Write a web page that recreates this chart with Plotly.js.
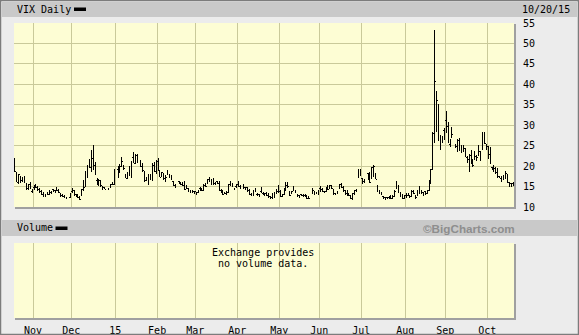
<!DOCTYPE html>
<html><head><meta charset="utf-8">
<script src="https://cdn.plot.ly/plotly-3.0.1.min.js"></script>
<style>html,body{margin:0;padding:0;background:#ececec;overflow:hidden}#chart{width:579px;height:335px}
#chart .ohlclayer path{shape-rendering:crispEdges}</style>
</head><body><div id="chart"></div>
<script>
// ---- data ----
const startDate = '2014-10-20';
const endDate = '2015-10-20';
const holidays = ['2014-11-27','2014-12-25','2015-01-01','2015-01-19','2015-02-16','2015-04-03','2015-05-25','2015-07-03','2015-09-07'];
const monthKeys = ['2014-11','2014-12','2015-01','2015-02','2015-03','2015-04','2015-05','2015-06','2015-07','2015-08','2015-09','2015-10'];
const monthLabels = ['Nov','Dec','15','Feb','Mar','Apr','May','Jun','Jul','Aug','Sep','Oct'];
const yTicks = [10,15,20,25,30,35,40,45,50,55];

const openV = [
 21.19,18.23,16.05,17.42,16.72,17.12,15.73,14.57,15.62,13.84,
 14.74,15.24,14.59,14.30,13.63,13.47,12.92,13.48,13.06,13.59,14.22,13.96,14.24,14.32,12.83,13.07,12.81,12.45,12.30,
 13.82,14.07,13.13,12.61,12.25,12.72,14.82,14.95,18.17,20.34,19.72,21.92,20.08,16.54,16.08,16.50,14.93,14.70,14.59,15.18,15.62,15.43,
 19.19,18.49,20.13,20.23,17.93,16.92,18.00,18.94,22.05,20.72,22.70,21.27,20.55,18.22,16.79,18.06,17.35,16.55,20.24,18.72,
 21.10,18.95,17.86,18.14,16.60,18.06,17.95,17.69,16.16,15.36,16.21,16.08,16.05,15.33,15.14,14.45,13.96,14.05,13.74,
 13.75,13.49,14.56,14.26,14.21,15.62,15.91,16.43,16.64,15.55,15.65,16.22,15.74,14.08,13.73,13.34,13.35,13.46,15.87,15.61,14.54,14.95,
 15.41,15.03,15.21,14.70,14.63,14.04,13.18,12.94,14.09,13.16,12.98,13.88,13.32,12.93,13.16,13.20,12.47,12.36,13.53,13.56,13.70,
 13.86,12.65,12.95,14.01,15.71,13.76,13.36,14.77,13.52,13.14,12.70,13.04,12.77,12.88,12.87,12.22,13.32,13.76,13.67,13.22,
 14.59,14.28,13.89,13.91,14.67,14.58,15.32,14.35,13.29,13.53,14.60,15.48,14.72,14.07,13.28,13.32,12.90,12.07,13.24,14.23,17.33,18.03,
 16.86,16.18,18.17,17.33,17.28,17.36,18.11,15.13,13.95,13.18,12.54,12.29,12.21,12.37,12.75,12.26,12.72,14.73,15.13,13.39,12.74,12.14,
 12.79,12.73,12.64,12.46,13.87,12.75,12.91,14.83,13.56,13.55,13.86,13.28,14.04,15.74,19.22,28.03,29.35,30.77,26.36,27.11,28.66,
 31.16,29.71,25.35,27.71,25.02,24.22,25.91,24.88,24.04,24.30,22.03,21.69,22.71,21.44,22.26,22.13,24.09,22.01,24.53,26.85,25.43,
 24.70,22.84,19.73,19.33,19.10,19.34,17.20,17.50,16.85,17.34,18.10,16.00,15.82,15.66
];
const highV = [
 21.90,18.48,18.00,17.47,17.23,17.48,15.78,15.71,16.03,14.39,
 15.29,15.70,15.04,14.64,14.17,13.55,13.09,13.57,14.20,13.84,14.45,14.04,14.78,14.50,13.50,13.12,12.86,12.50,13.53,
 14.64,14.24,13.22,13.12,12.60,14.35,16.68,18.82,20.12,21.86,23.87,25.20,21.08,17.04,16.77,16.50,15.17,14.77,14.71,15.64,16.18,19.34,
 20.14,20.47,22.12,20.32,18.09,18.63,19.95,21.33,23.43,22.97,22.87,21.54,20.73,18.77,17.23,18.08,18.00,20.78,20.96,21.39,
 21.93,19.06,18.60,18.19,17.88,18.96,18.16,17.87,16.26,15.54,16.48,16.15,16.13,16.31,15.19,14.70,14.15,14.22,13.97,
 13.75,14.21,14.93,14.53,15.58,15.78,16.91,17.24,16.66,17.12,16.06,16.39,16.35,14.33,14.05,13.63,13.97,15.52,16.27,15.93,14.76,15.53,
 16.27,15.38,15.66,14.95,14.86,14.31,13.32,14.10,14.58,13.36,13.18,14.88,13.74,13.49,13.58,13.25,12.62,13.46,13.78,14.50,15.29,
 14.04,13.06,14.68,16.22,16.02,13.76,14.01,15.14,14.18,13.14,12.82,13.06,13.27,13.20,13.00,12.62,14.65,13.77,13.76,14.13,
 15.10,14.67,14.01,15.00,15.26,15.40,15.42,14.35,13.43,13.81,15.68,15.81,15.23,14.12,14.04,13.33,12.96,13.36,14.06,14.43,19.29,19.24,
 17.19,16.95,18.41,18.50,19.78,20.18,18.14,15.29,14.13,13.78,12.73,12.54,12.51,12.62,12.89,13.03,14.07,16.27,15.43,13.56,13.21,12.82,
 13.51,13.42,13.00,14.23,14.26,12.91,14.12,15.21,14.05,13.74,14.00,14.07,16.49,19.33,28.38,53.29,38.30,35.30,27.51,27.25,29.32,
 33.42,30.84,26.51,29.63,25.39,26.58,26.77,25.08,25.09,24.34,22.41,22.85,24.05,21.78,23.80,22.70,25.10,23.72,28.41,28.30,25.52,
 24.85,24.68,19.89,20.25,19.67,19.38,17.68,17.57,17.77,18.74,18.12,16.02,15.90,16.12
];
const lowV = [
 18.44,16.02,15.62,15.89,16.03,15.93,14.34,14.08,14.40,13.44,
 14.27,14.53,14.02,13.36,12.96,12.54,12.47,12.82,12.85,13.08,13.77,13.43,13.80,13.45,12.56,12.53,12.10,11.95,12.15,
 13.51,12.81,12.41,12.30,11.71,12.59,13.94,14.92,17.12,19.46,18.60,19.06,17.78,15.44,15.22,14.97,14.26,14.29,14.12,14.62,15.30,15.36,
 17.05,18.32,19.75,19.06,16.99,16.85,17.49,17.12,20.65,20.55,20.69,19.74,18.59,16.23,16.27,15.38,16.53,16.44,18.48,18.18,
 18.88,17.24,17.23,16.70,16.12,17.81,17.08,16.55,15.24,14.69,15.66,15.31,15.12,14.13,14.40,13.65,13.52,13.51,13.25,
 12.95,13.40,14.01,13.89,13.91,14.88,15.69,16.20,15.29,15.35,15.38,15.53,13.91,13.51,12.92,13.09,12.94,13.43,15.05,14.89,14.26,14.56,
 14.99,14.35,14.42,14.10,13.76,12.98,12.57,12.72,13.60,12.61,12.60,13.43,12.85,12.67,12.62,12.14,12.03,11.95,12.31,13.19,13.54,
 12.38,12.35,12.91,13.96,14.75,12.74,13.18,13.84,13.33,12.56,12.18,12.63,12.48,12.44,12.05,12.08,13.08,12.97,13.19,12.95,
 13.71,13.69,13.31,13.59,14.07,14.38,14.30,13.05,12.82,13.12,14.52,14.59,13.68,12.98,12.81,12.67,11.91,11.82,12.99,13.70,16.99,17.52,
 15.64,15.95,16.54,15.89,16.95,17.32,16.78,13.75,13.28,12.84,12.06,11.81,11.98,12.02,11.97,12.01,12.55,14.43,13.40,12.46,12.05,11.97,
 12.13,12.58,12.21,12.40,13.11,11.92,12.80,13.23,13.10,12.79,12.82,13.15,13.98,15.72,19.22,25.72,28.41,26.19,24.04,25.61,26.34,
 28.18,25.77,24.76,26.93,24.48,23.38,23.62,23.10,23.40,22.13,20.78,18.45,20.58,19.83,21.41,21.28,22.58,21.14,24.06,25.44,23.88,
 21.86,20.63,19.05,18.67,17.96,17.06,16.98,16.11,16.49,16.74,16.02,14.96,14.96,15.19
];
const closeV = [
 18.57,16.08,17.87,16.53,16.11,16.04,14.39,15.15,14.52,14.03,
 14.73,14.89,14.17,13.67,13.12,12.67,12.92,13.02,13.79,13.31,13.99,13.86,13.96,13.58,12.90,12.62,12.25,12.07,13.33,
 14.29,12.85,12.47,12.38,11.82,14.21,14.89,18.53,20.08,21.08,20.42,19.44,17.98,16.81,16.49,15.25,14.80,14.37,14.50,15.06,15.92,19.20,
 17.79,19.92,21.12,19.31,17.01,17.55,19.60,20.56,21.48,22.39,20.95,19.89,18.85,16.40,16.66,15.52,17.22,20.44,18.76,20.97,
 19.43,17.33,18.33,16.85,17.29,18.55,17.23,16.96,15.34,14.69,15.80,15.45,15.29,14.30,14.56,13.69,13.84,13.91,13.34,
 13.04,13.86,14.23,14.04,15.20,15.06,16.69,16.87,15.42,16.00,15.61,15.66,13.97,14.07,13.02,13.41,13.62,15.44,15.80,15.07,14.51,15.29,
 15.11,14.67,14.74,14.78,13.98,13.09,12.58,13.94,13.67,12.84,12.60,13.89,13.30,13.25,12.71,12.48,12.29,13.12,13.03,13.39,14.55,
 12.70,12.85,14.31,15.15,15.13,12.86,13.85,13.86,13.76,12.74,12.38,12.73,12.85,12.88,12.11,12.13,14.06,13.27,13.31,13.84,
 13.97,14.24,13.66,14.71,14.21,15.29,14.47,13.22,12.85,13.78,15.39,14.81,14.50,13.19,13.96,12.74,12.11,13.26,14.01,14.02,18.85,18.23,
 16.09,16.79,17.01,16.09,19.66,19.97,16.83,13.90,13.37,13.23,12.11,11.95,12.25,12.22,12.12,12.64,13.74,15.60,13.44,12.50,12.13,12.12,
 12.56,13.00,12.51,13.77,13.39,12.23,13.71,13.61,13.49,12.83,13.02,13.79,15.25,19.14,28.03,40.74,36.02,30.32,26.10,26.05,28.43,
 31.40,26.09,25.61,27.80,24.90,26.23,24.37,23.20,24.25,22.54,21.35,21.14,22.28,20.14,22.44,22.13,23.47,23.62,27.63,26.83,24.50,
 22.55,20.94,19.54,19.40,18.40,17.42,17.08,16.17,17.67,18.03,16.05,15.05,15.61,15.75
];

// ---- trading calendar (weekday slots, holidays left empty) ----
function iso(d){return d.toISOString().slice(0,10);}
const weekdays = [];
for (let d = new Date(startDate+'T00:00:00Z'); iso(d) <= endDate; d.setUTCDate(d.getUTCDate()+1)) {
  const w = d.getUTCDay(); if (w !== 0 && w !== 6) weekdays.push(iso(d));
}
const tradeDates = weekdays.filter(s => !holidays.includes(s));
[openV,highV,lowV,closeV].forEach((a,i)=>{ if(a.length!==tradeDates.length) throw new Error('len mismatch '+i+': '+a.length+' vs '+tradeDates.length); });
const xIdx = tradeDates.map(s => weekdays.indexOf(s));
const tickPos = monthKeys.map(k => weekdays.findIndex(s => s.startsWith(k)) - 0.5);

// ---- geometry helpers (pixel -> paper) ----
const L=14, R=514, T=23, B=318;
const xp = px => (px-L)/(R-L);
const yp = py => (B-py)/(B-T);
const MONO = 'DejaVu Sans Mono';
const GRID = '#c9c99a';

const traces = [
 {type:'ohlc', x:xIdx, open:openV, high:highV, low:lowV, close:closeV, xaxis:'x', yaxis:'y',
  increasing:{line:{color:'#000',width:1}}, decreasing:{line:{color:'#000',width:1}},
  tickwidth:0.45, hoverinfo:'skip', showlegend:false},
 {type:'scatter', x:[], y:[], xaxis:'x2', yaxis:'y2', hoverinfo:'skip', showlegend:false}
];

const xRange = [-0.5, weekdays.length-0.5];
const layout = {
  width:579, height:335,
  margin:{l:L, r:579-R, t:T, b:335-B, pad:0},
  paper_bgcolor:'#ececec', plot_bgcolor:'#fdfdd4',
  showlegend:false,
  xaxis:{domain:[0,1], anchor:'y', range:xRange, tickvals:tickPos, showticklabels:false, ticks:'',
         showgrid:true, gridcolor:GRID, gridwidth:1, zeroline:false, showline:false, fixedrange:true,
         rangeslider:{visible:false}},
  yaxis:{domain:[yp(207),1], anchor:'x', side:'right', range:[10,55], tickvals:yTicks,
         showgrid:true, gridcolor:GRID, gridwidth:1, zeroline:false, showline:false,
         ticks:'outside', ticklen:6, tickcolor:'rgba(0,0,0,0)', tickfont:{family:MONO,size:10,color:'#000'}, fixedrange:true},
  xaxis2:{domain:[0,1], anchor:'y2', range:xRange, tickvals:tickPos, ticktext:monthLabels,
         ticks:'outside', ticklen:3, tickcolor:'rgba(0,0,0,0)', tickfont:{family:MONO,size:10,color:'#000'},
         showgrid:true, gridcolor:GRID, gridwidth:1, zeroline:false, showline:false, fixedrange:true},
  yaxis2:{domain:[0,yp(243)], anchor:'x2', range:[0,1], showgrid:false, showticklabels:false, zeroline:false, ticks:'', fixedrange:true},
  shapes:[
    {type:'rect', xref:'paper', yref:'paper', x0:xp(2), x1:xp(577), y0:yp(2), y1:yp(17), fillcolor:'#c9c9c9', line:{width:0}, layer:'below'},
    {type:'rect', xref:'paper', yref:'paper', x0:xp(2), x1:xp(577), y0:yp(220), y1:yp(236), fillcolor:'#c9c9c9', line:{width:0}, layer:'below'},
    {type:'rect', xref:'paper', yref:'paper', x0:xp(0.5), x1:xp(578.5), y0:yp(0.5), y1:yp(334.5), line:{color:'#7c7c7c', width:1.5}},
    {type:'line', xref:'paper', yref:'paper', x0:xp(515), x1:xp(515), y0:yp(24), y1:yp(209), line:{color:'#a0a0a0', width:2}},
    {type:'line', xref:'paper', yref:'paper', x0:xp(15), x1:xp(516), y0:yp(208), y1:yp(208), line:{color:'#a0a0a0', width:2}},
    {type:'line', xref:'paper', yref:'paper', x0:xp(515), x1:xp(515), y0:yp(244), y1:yp(320), line:{color:'#a0a0a0', width:2}},
    {type:'line', xref:'paper', yref:'paper', x0:xp(15), x1:xp(516), y0:yp(319), y1:yp(319), line:{color:'#a0a0a0', width:2}},
    {type:'rect', xref:'paper', yref:'paper', x0:xp(74), x1:xp(86), y0:yp(7.5), y1:yp(11), fillcolor:'#000', line:{width:0}},
    {type:'rect', xref:'paper', yref:'paper', x0:xp(55.5), x1:xp(67.5), y0:yp(226.5), y1:yp(230), fillcolor:'#000', line:{width:0}}
  ],
  annotations:[
    {text:'VIX Daily', xref:'paper', yref:'paper', x:xp(15), y:yp(9.5), xanchor:'left', yanchor:'middle', showarrow:false, font:{family:MONO,size:10,color:'#000'}},
    {text:'10/20/15', xref:'paper', yref:'paper', x:xp(572), y:yp(9.5), xanchor:'right', yanchor:'middle', showarrow:false, font:{family:MONO,size:10,color:'#000'}},
    {text:'Volume', xref:'paper', yref:'paper', x:xp(15), y:yp(228), xanchor:'left', yanchor:'middle', showarrow:false, font:{family:MONO,size:10,color:'#000'}},
    {text:'<b>©BigCharts.com</b>', xref:'paper', yref:'paper', x:xp(516.5), y:yp(228.5), xanchor:'right', yanchor:'middle', showarrow:false, font:{family:'Liberation Sans',size:11.7,color:'#8e8e8e'}},
    {text:'Exchange provides', xref:'paper', yref:'paper', x:xp(263), y:yp(252), xanchor:'center', yanchor:'middle', showarrow:false, font:{family:MONO,size:10,color:'#000'}},
    {text:'no volume data.', xref:'paper', yref:'paper', x:xp(263), y:yp(263), xanchor:'center', yanchor:'middle', showarrow:false, font:{family:MONO,size:10,color:'#000'}}
  ]
};

Plotly.newPlot('chart', traces, layout, {staticPlot:true, displayModeBar:false});
</script>
</body></html>
